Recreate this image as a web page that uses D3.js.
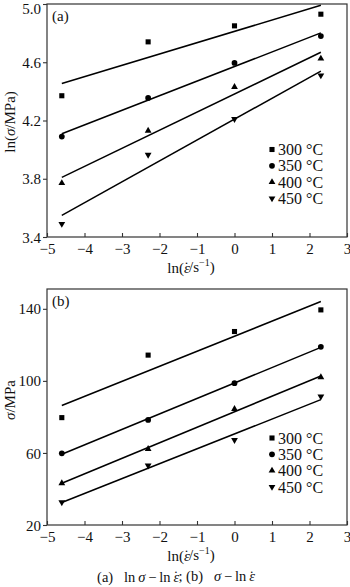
<!DOCTYPE html>
<html>
<head>
<meta charset="utf-8">
<script src="https://cdn.jsdelivr.net/npm/d3@7"></script>
<style>
  html, body { margin: 0; padding: 0; background: #fff; }
  svg { display: block; }
  svg text { font-family: "Liberation Serif", "Times New Roman", serif; fill: #111; }
</style>
</head>
<body>
<svg id="chart" width="350" height="587" font-family="Liberation Serif"></svg>
<script>
// ln of strain rate (0.01, 0.1, 1, 10 s^-1)
const lnRate = [-4.605, -2.303, 0, 2.303];
const temperatures = ["300 °C", "350 °C", "400 °C", "450 °C"];
const symbolKinds = ["square", "circle", "triangle", "triangleDown"];

// ln(σ/MPa) per temperature
const lnSigma300 = [4.37, 4.74, 4.85, 4.93];
const lnSigma350 = [4.09, 4.355, 4.595, 4.78];
const lnSigma400 = [3.77, 4.13, 4.43, 4.625];
const lnSigma450 = [3.49, 3.965, 4.21, 4.51];

// σ/MPa per temperature
const sigma300 = [79.6, 114.3, 127.4, 139.4];
const sigma350 = [59.8, 78.3, 98.7, 118.9];
const sigma400 = [43.2, 62.2, 84.4, 102.0];
const sigma450 = [32.6, 53.0, 67.2, 91.3];

const xTicks = [-5, -4, -3, -2, -1, 0, 1, 2, 3];
const yTicksA = [3.4, 3.8, 4.2, 4.6, 5.0];
const yTicksB = [20, 60, 100, 140];

const FONT = "Liberation Serif";
const svg = d3.select("#chart");
const minus = s => String(s).replace("-", "\u2212");

function symbolPath(kind) {
  if (kind === "square") return d3.symbol(d3.symbolSquare, 26)();
  if (kind === "circle") return d3.symbol(d3.symbolCircle, 26)();
  return d3.symbol(d3.symbolTriangle, 20)();
}
function symbolTransform(kind, x, y) {
  return `translate(${x},${y})` + (kind === "triangleDown" ? " rotate(180)" : "");
}

// italic epsilon with a dot placed over it (strain rate)
function epsDot(t, size) {
  t.append("tspan").attr("font-style", "italic").text("\u03B5");
  t.append("tspan").attr("dx", -0.39 * size).attr("dy", -0.05 * size).text("\u02D9");
  t.append("tspan").attr("dx", 0.06 * size).attr("dy", 0.05 * size).text("");
}

// least-squares fit through the four points of a series
function fit(xs, ys) {
  const mx = d3.mean(xs), my = d3.mean(ys);
  const sxy = d3.sum(xs, (x, i) => (x - mx) * (ys[i] - my));
  const sxx = d3.sum(xs, x => (x - mx) * (x - mx));
  const b = sxy / sxx;
  return x => my + b * (x - mx);
}

function panel(opts) {
  const { top, bottom, yDomain, yTicks, yFmt, series, tag, yTitle, yTitleY, legendY } = opts;
  const left = 47, right = 347;
  const x = d3.scaleLinear().domain([-5, 3]).range([left, right]);
  const y = d3.scaleLinear().domain(yDomain).range([bottom, top]);
  const g = svg.append("g");

  // frame
  g.append("rect")
    .attr("x", left).attr("y", top)
    .attr("width", right - left).attr("height", bottom - top)
    .attr("fill", "none").attr("stroke", "#333").attr("stroke-width", 1.2);

  // x axis: ticks pointing inward
  const xa = g.append("g").attr("transform", `translate(0,${bottom})`)
    .call(d3.axisBottom(x).tickValues(xTicks).tickSizeInner(-4).tickSizeOuter(0)
      .tickFormat(d => minus(d)));
  xa.attr("font-family", FONT);
  xa.select(".domain").remove();
  xa.selectAll("line").attr("stroke", "#333").attr("stroke-width", 1.1);
  xa.selectAll("text").attr("font-size", 15).attr("dy", 0).attr("y", 17);

  // y axis: ticks pointing outward
  const ya = g.append("g").attr("transform", `translate(${left},0)`)
    .call(d3.axisLeft(y).tickValues(yTicks).tickSizeInner(4).tickSizeOuter(0)
      .tickFormat(yFmt));
  ya.attr("font-family", FONT);
  ya.select(".domain").remove();
  ya.selectAll("line").attr("stroke", "#333").attr("stroke-width", 1.1);
  ya.selectAll("text").attr("font-size", 15).attr("x", -6).attr("dy", "0.34em");
  // keep the topmost label inside the page
  ya.selectAll(".tick text").filter(d => y(d) < 8).attr("y", 8 - y(yTicks[yTicks.length - 1]));

  // x title
  const xt = g.append("text")
    .attr("x", 191).attr("y", bottom + 36)
    .attr("text-anchor", "middle").attr("font-size", 15);
  xt.append("tspan").text("ln(");
  epsDot(xt, 15);
  xt.append("tspan").text("/s");
  xt.append("tspan").attr("font-size", 10).attr("dy", -6).text("\u22121");
  xt.append("tspan").attr("dy", 6).text(")");

  // y title
  const yt = g.append("text")
    .attr("transform", `translate(15,${yTitleY}) rotate(-90)`)
    .attr("text-anchor", "middle").attr("font-size", 15);
  yTitle(yt);

  // panel tag
  g.append("text").attr("x", 52).attr("y", top + 17).attr("font-size", 15).text(tag);

  // fitted lines and markers
  series.forEach((vals, i) => {
    const f = fit(lnRate, vals);
    const x0 = lnRate[0], x1 = lnRate[lnRate.length - 1];
    g.append("line")
      .attr("x1", x(x0)).attr("y1", y(f(x0)))
      .attr("x2", x(x1)).attr("y2", y(f(x1)))
      .attr("stroke", "#000").attr("stroke-width", 1.5);
    g.selectAll(null).data(vals).enter().append("path")
      .attr("d", symbolPath(symbolKinds[i]))
      .attr("transform", (d, j) => symbolTransform(symbolKinds[i], x(lnRate[j]), y(d)))
      .attr("fill", "#000");
  });

  // legend
  temperatures.forEach((t, i) => {
    const ly = legendY + i * 16.3;
    g.append("path")
      .attr("d", symbolPath(symbolKinds[i]))
      .attr("transform", symbolTransform(symbolKinds[i], 272, ly))
      .attr("fill", "#000");
    g.append("text").attr("x", 278).attr("y", ly).attr("dy", "0.35em")
      .attr("font-size", 16).text(t);
  });
}

panel({
  top: 4, bottom: 237, yDomain: [3.4, 5.0], yTicks: yTicksA, yFmt: d3.format(".1f"),
  series: [lnSigma300, lnSigma350, lnSigma400, lnSigma450], tag: "(a)",
  yTitleY: 122, legendY: 149.5,
  yTitle: t => {
    t.append("tspan").text("ln(");
    t.append("tspan").attr("font-style", "italic").text("\u03C3");
    t.append("tspan").text("/MPa)");
  }
});

panel({
  top: 289, bottom: 525, yDomain: [20, 151], yTicks: yTicksB, yFmt: d3.format("d"),
  series: [sigma300, sigma350, sigma400, sigma450], tag: "(b)",
  yTitleY: 400, legendY: 438,
  yTitle: t => {
    t.append("tspan").attr("font-style", "italic").text("\u03C3");
    t.append("tspan").text("/MPa");
  }
});

// caption
const cap = svg.append("text").attr("x", 176).attr("y", 582)
  .attr("text-anchor", "middle").attr("font-size", 14.5);
cap.append("tspan").text("(a)\u00A0\u00A0\u00A0ln\u2009");
cap.append("tspan").attr("font-style", "italic").text("\u03C3");
cap.append("tspan").text("\u2009\u2212\u2009ln\u2009");
epsDot(cap, 14.5);
cap.append("tspan").text("; (b)\u00A0\u00A0\u00A0");
cap.append("tspan").attr("font-style", "italic").text("\u03C3");
cap.append("tspan").text("\u2009\u2212\u2009ln\u2009");
epsDot(cap, 14.5);
</script>
</body>
</html>
